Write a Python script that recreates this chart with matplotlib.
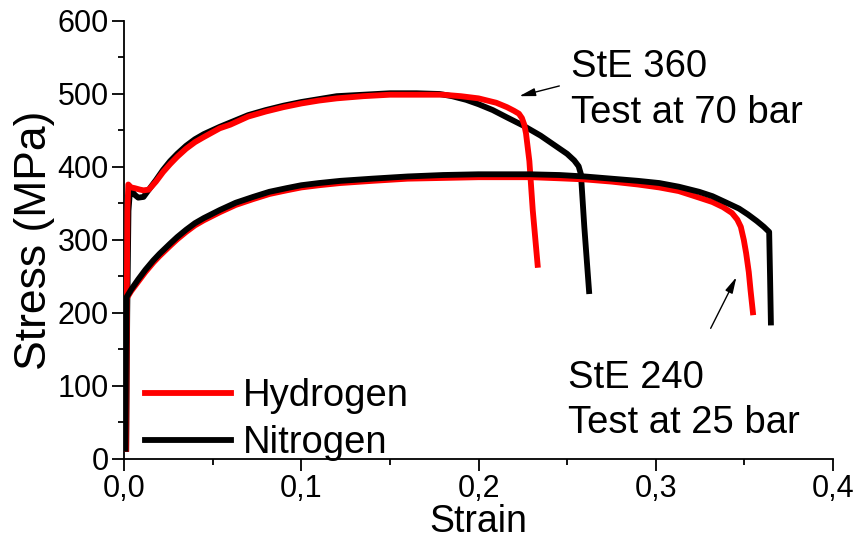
import matplotlib
matplotlib.use("Agg")
import matplotlib.pyplot as plt
from matplotlib.ticker import FuncFormatter, MultipleLocator
from matplotlib.lines import Line2D

plt.rcParams['font.family'] = ['Liberation Sans', 'DejaVu Sans']

# StE 360, Hydrogen
h360_strain = [0.0012, 0.0015, 0.0019, 0.0024, 0.004, 0.006, 0.009, 0.011, 0.014, 0.018,
               0.022, 0.026, 0.030, 0.035, 0.040, 0.045, 0.054, 0.060, 0.070, 0.080,
               0.090, 0.100, 0.110, 0.120, 0.135, 0.150, 0.165, 0.180, 0.190, 0.200,
               0.210, 0.216, 0.220, 0.2228, 0.2245, 0.2258, 0.2268, 0.2287, 0.2306, 0.2335]
h360_stress = [10, 200, 340, 376, 372, 371, 369, 368, 369, 380,
               393, 404, 414, 425, 434, 441, 453, 458, 469, 476,
               482, 487, 491, 494, 497, 499, 499, 499, 497, 494,
               488, 482, 477, 473, 467, 458, 446, 408, 341, 262]
# StE 360, Nitrogen
n360_strain = [0.0012, 0.0018, 0.0025, 0.0033, 0.0043, 0.006, 0.008, 0.011, 0.014, 0.018,
               0.022, 0.026, 0.030, 0.035, 0.040, 0.045, 0.054, 0.060, 0.070, 0.080,
               0.090, 0.100, 0.110, 0.120, 0.135, 0.150, 0.165, 0.178, 0.185, 0.193,
               0.200, 0.208, 0.216, 0.225, 0.235, 0.244, 0.250, 0.254, 0.2565, 0.2578,
               0.2597, 0.2625]
n360_stress = [10, 200, 340, 366, 368, 362, 358, 359, 369, 382,
               396, 408, 418, 429, 438, 445, 455, 461, 471, 478,
               484, 489, 493, 497, 499, 501, 501, 500, 497, 492,
               486, 478, 468, 457, 443, 428, 418, 409, 401, 390,
               318, 226]
# StE 240, Hydrogen
h240_strain = [0.0008, 0.0011, 0.0015, 0.004, 0.008, 0.012, 0.0165, 0.020, 0.026, 0.030,
               0.035, 0.040, 0.045, 0.054, 0.063, 0.0728, 0.082, 0.0917, 0.100, 0.110,
               0.122, 0.140, 0.160, 0.180, 0.200, 0.230, 0.2457, 0.260, 0.275, 0.290,
               0.302, 0.313, 0.3245, 0.332, 0.338, 0.343, 0.346, 0.348, 0.3497, 0.351,
               0.3525, 0.3535, 0.355]
h240_stress = [10, 150, 220, 230, 243, 256, 269, 278, 292, 301,
               311, 320, 327, 338, 348, 356, 363, 368, 372, 375,
               378, 381, 384, 385, 386, 386, 384.5, 383, 380, 376,
               372, 367, 358, 352, 345, 337, 328, 318, 300, 282,
               256, 231, 197]
# StE 240, Nitrogen
n240_strain = [0.0008, 0.0011, 0.0015, 0.004, 0.008, 0.012, 0.0165, 0.020, 0.026, 0.030,
               0.035, 0.040, 0.045, 0.054, 0.063, 0.0728, 0.082, 0.0917, 0.100, 0.110,
               0.122, 0.140, 0.160, 0.180, 0.200, 0.229, 0.2457, 0.260, 0.275, 0.290,
               0.302, 0.313, 0.3245, 0.332, 0.340, 0.347, 0.352, 0.357, 0.361, 0.364,
               0.3645, 0.365]
n240_stress = [10, 150, 222, 232, 246, 259, 272, 281, 295, 304,
               314, 323, 330, 341, 351, 359, 366, 371, 375, 378,
               381, 384, 387, 389, 390, 390, 389, 387, 384, 381,
               378, 373, 366, 360, 351, 343, 335, 326, 318, 311,
               250, 183]

series_labels = ["Hydrogen", "Nitrogen"]
series_colors = ["#ff0000", "#000000"]

fig = plt.figure(figsize=(8.59, 5.45), dpi=100)
ax = fig.add_axes([0.1444, 0.1578, 0.8253, 0.8037])

lw = 4.2
kw = dict(lw=lw, solid_joinstyle='round', solid_capstyle='butt')
ax.plot(n360_strain, n360_stress, color=series_colors[1], zorder=2, **kw)
ax.plot(h360_strain, h360_stress, color=series_colors[0], zorder=3, **kw)
ax.plot(h240_strain, h240_stress, color=series_colors[0], zorder=2, **kw)
ax.plot(n240_strain, n240_stress, color=series_colors[1], zorder=3, **kw)

ax.set_xlim(0, 0.4)
ax.set_ylim(0, 600)
for s in ['top', 'right']:
    ax.spines[s].set_visible(False)
for s in ['left', 'bottom']:
    ax.spines[s].set_linewidth(1.3)

ax.xaxis.set_major_locator(MultipleLocator(0.1))
ax.xaxis.set_minor_locator(MultipleLocator(0.05))
ax.yaxis.set_major_locator(MultipleLocator(100))
ax.yaxis.set_minor_locator(MultipleLocator(50))
ax.xaxis.set_major_formatter(FuncFormatter(lambda v, p: f"{v:.1f}".replace('.', ',')))
ax.tick_params(which='major', direction='out', length=8.5, width=1.3, labelsize=22, pad=2.5)
ax.tick_params(which='minor', direction='out', length=4, width=1.3)

ax.set_xlabel("Strain", fontsize=27, labelpad=0)
ax.set_ylabel("Stress (MPa)", fontsize=32, labelpad=2)

handles = [Line2D([], [], color=c, lw=lw) for c in series_colors]
ax.legend(handles, series_labels, loc='upper left', bbox_to_anchor=(0.014, 0.21),
          frameon=False, fontsize=27.5, handlelength=2.25, handletextpad=0.3,
          borderpad=0.3, borderaxespad=0.0, labelspacing=0.28)

tfs = 27.5
ax.text(0.2522, 523.7, "StE 360", fontsize=tfs, ha='left', va='baseline')
ax.text(0.2522, 459.9, "Test at 70 bar", fontsize=tfs, ha='left', va='baseline')
ax.text(0.2503, 96.8, "StE 240", fontsize=tfs, ha='left', va='baseline')
ax.text(0.2503, 35.2, "Test at 25 bar", fontsize=tfs, ha='left', va='baseline')

ax.annotate("", xy=(0.223, 497), xytext=(0.2456, 511),
            arrowprops=dict(arrowstyle='-|>,head_length=0.8,head_width=0.2', color='black',
                            lw=1.0, mutation_scale=12, shrinkA=0, shrinkB=0))
ax.annotate("", xy=(0.3455, 249), xytext=(0.331, 179),
            arrowprops=dict(arrowstyle='-|>,head_length=0.8,head_width=0.2', color='black',
                            lw=1.0, mutation_scale=12, shrinkA=0, shrinkB=0))

fig.savefig("out.png", dpi=100)
